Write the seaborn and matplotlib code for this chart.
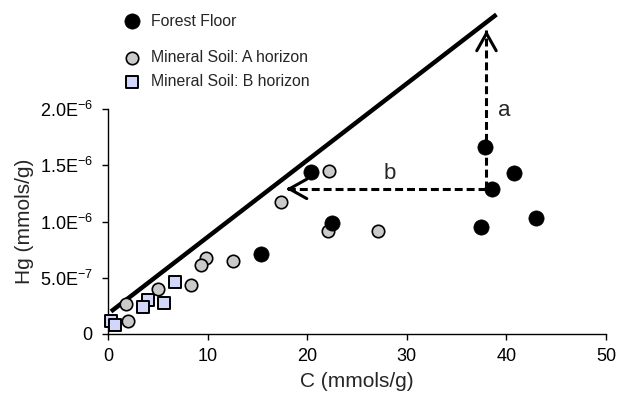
import matplotlib
matplotlib.use("Agg")
import matplotlib.pyplot as plt
import seaborn as sns
import pandas as pd

sns.set_style("white")
plt.rcParams['font.family'] = ['Liberation Sans', 'DejaVu Sans']
plt.rcParams['mathtext.default'] = 'regular'

# Data
ff_x = [20.4, 22.5, 15.4, 37.9, 38.6, 40.8, 43.0, 37.4]
ff_y = [1.44e-6, 0.99e-6, 0.71e-6, 1.66e-6, 1.29e-6, 1.43e-6, 1.03e-6, 0.95e-6]

a_x = [22.2, 17.4, 22.1, 27.1, 9.8, 9.3, 12.5, 8.3, 5.0, 1.8, 2.0]
a_y = [1.45e-6, 1.17e-6, 0.92e-6, 0.92e-6, 0.68e-6, 0.61e-6, 0.65e-6, 0.44e-6, 0.40e-6, 0.27e-6, 0.12e-6]

b_x = [6.7, 4.0, 5.6, 3.5, 0.3, 0.7]
b_y = [0.465e-6, 0.30e-6, 0.28e-6, 0.24e-6, 0.12e-6, 0.08e-6]

line_x = [0.3, 39.0]
line_y = [0.20e-6, 2.84e-6]

arrow_a_x = [38.0, 38.0]
arrow_a_y = [1.29e-6, 2.70e-6]
arrow_b_x = [38.0, 17.9]
arrow_b_y = [1.29e-6, 1.29e-6]

x_ticks = [0, 10, 20, 30, 40, 50]
y_ticks = [0, 5e-7, 1e-6, 1.5e-6, 2e-6]
y_tick_labels = ['0', '5.0E$^{-7}$', '1.0E$^{-6}$', '1.5E$^{-6}$', '2.0E$^{-6}$']

labels = ['Forest Floor', 'Mineral Soil: A horizon', 'Mineral Soil: B horizon']

fig = plt.figure(figsize=(6.18, 3.93), dpi=100)
W, H = 618, 393
ax = fig.add_axes([108 / W, (H - 334) / H, 498 / W, 225 / H])

# Diagonal line
ax.plot(line_x, line_y, color='black', lw=3.2, clip_on=False, solid_capstyle='butt', zorder=2)

# Dashed arrows
for xs, ys in [(arrow_a_x, arrow_a_y), (arrow_b_x, arrow_b_y)]:
    ax.plot(xs, ys, color='black', lw=2.2, ls=(0, (2.6, 1.3)), clip_on=False, zorder=2)
    ax.annotate('', xy=(xs[1], ys[1]), xytext=(xs[1] - (xs[1] - xs[0]) * 0.02, ys[1] - (ys[1] - ys[0]) * 0.02),
                arrowprops=dict(arrowstyle='->,head_length=1.25,head_width=0.7', color='black', lw=2.2,
                                shrinkA=0, shrinkB=0), annotation_clip=False, zorder=3)

ax.text(39.8, 1.99e-6, 'a', fontsize=16, ha='center', va='center')
ax.text(28.3, 1.43e-6, 'b', fontsize=16, ha='center', va='center')

df_ff = pd.DataFrame({'x': ff_x, 'y': ff_y})
df_a = pd.DataFrame({'x': a_x, 'y': a_y})
df_b = pd.DataFrame({'x': b_x, 'y': b_y})

sns.scatterplot(data=df_b, x='x', y='y', ax=ax, marker='s', s=85, color='#d2d6fa',
                edgecolor='black', linewidth=1.4, label=labels[2], zorder=4, clip_on=False)
sns.scatterplot(data=df_a, x='x', y='y', ax=ax, marker='o', s=80, color='#cacaca',
                edgecolor='black', linewidth=1.2, label=labels[1], zorder=4, clip_on=False)
sns.scatterplot(data=df_ff, x='x', y='y', ax=ax, marker='o', s=120, color='black',
                edgecolor='black', linewidth=0.5, label=labels[0], zorder=5, clip_on=False)

ax.set_xlim(0, 50)
ax.set_ylim(0, 2e-6)
ax.set_xticks(x_ticks)
ax.set_xticklabels([str(t) for t in x_ticks])
ax.set_yticks(y_ticks)
ax.set_yticklabels(y_tick_labels)
ax.tick_params(axis='both', which='major', length=4, width=1, direction='out',
               labelsize=13, color='black', labelcolor='black', bottom=True, left=True)
ax.tick_params(axis='x', pad=6)
ax.tick_params(axis='y', pad=7)
for side in ['top', 'right']:
    ax.spines[side].set_visible(False)
for side in ['left', 'bottom']:
    ax.spines[side].set_color('black')
    ax.spines[side].set_linewidth(1)

ax.set_xlabel('C (mmols/g)', fontsize=15, labelpad=5)
ax.set_ylabel('Hg (mmols/g)', fontsize=15, labelpad=4)

handles, labs = ax.get_legend_handles_labels()
hmap = dict(zip(labs, handles))
leg_kw = dict(loc='center left', bbox_transform=fig.transFigure, frameon=False, fontsize=11.4,
              handletextpad=0.7, borderpad=0, borderaxespad=0, handlelength=1.0)
leg1 = ax.legend([hmap[labels[0]]], [labels[0]], bbox_to_anchor=(124 / W, 1 - 21 / H), **leg_kw)
ax.add_artist(leg1)
ax.legend([hmap[labels[1]], hmap[labels[2]]], [labels[1], labels[2]],
          bbox_to_anchor=(124 / W, 1 - 69.5 / H), labelspacing=0.6, **leg_kw)

fig.savefig('out.png', dpi=100)
